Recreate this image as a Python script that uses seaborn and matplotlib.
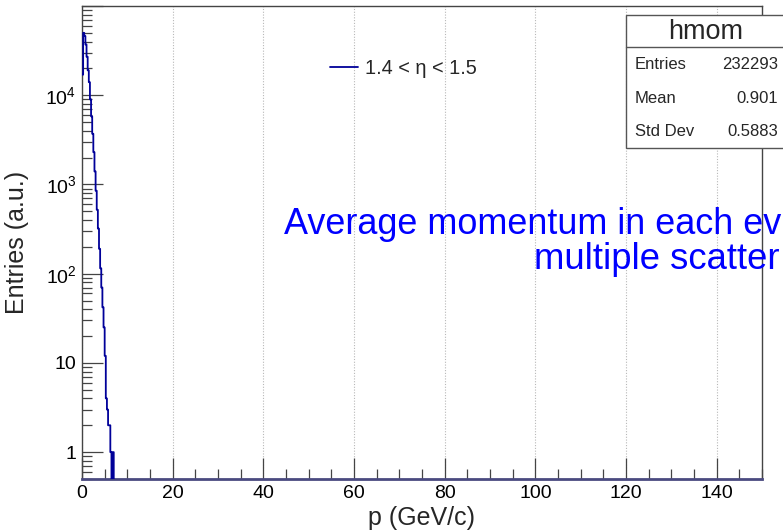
import numpy as np
import pandas as pd
import matplotlib
matplotlib.use("Agg")
import matplotlib.pyplot as plt
import matplotlib.ticker as mticker
from matplotlib.patches import Rectangle
from matplotlib.lines import Line2D
import seaborn as sns

# ---------------- data ----------------
bin_width = 0.25
x_range = (0.0, 150.0)
counts = [17000, 50000, 46000, 37000, 27000, 19000, 14000, 9000,
          5800, 3700, 2300, 1400, 850, 520, 320, 190,
          115, 70, 42, 25, 12, 4, 3, 2,
          2, 1, 0, 1]
legend_label = "1.4 < η < 1.5"
stats_title = "hmom"
stats_names = ["Entries", "Mean", "Std Dev"]
stats_values = ["232293", "0.901", "0.5883"]
x_ticks = [0, 20, 40, 60, 80, 100, 120, 140]
y_ticks = [1, 10, 100, 1000, 10000]
y_tick_labels = ["1", "10", r"$\mathregular{10^{2}}$", r"$\mathregular{10^{3}}$",
                 r"$\mathregular{10^{4}}$"]
note_line1 = "Average momentum in each ev"
note_line2 = "multiple scatter"

p_centers = bin_width * (np.arange(len(counts)) + 0.5)
df = pd.DataFrame({"p": p_centers, "w": counts})
edges = list(np.arange(x_range[0], x_range[1] + bin_width / 2, bin_width))

# ---------------- style ----------------
sns.set_theme(style="white")
plt.rcParams["font.family"] = ["Liberation Sans", "DejaVu Sans"]

W, H = 783, 531
fig = plt.figure(figsize=(W / 100, H / 100), dpi=100)
ax = fig.add_axes([82 / W, (H - 479) / H, (762 - 82) / W, (479 - 6) / H])

line_color = "#000099"
sns.histplot(data=df, x="p", weights="w", bins=edges, element="step",
             fill=False, color=line_color, linewidth=1.3, ax=ax,
             label=legend_label, zorder=3)

ax.set_yscale("log")
ax.set_xlim(*x_range)
ax.set_ylim(0.5, 1e5)

ax.xaxis.set_major_locator(mticker.FixedLocator(x_ticks))
ax.xaxis.set_minor_locator(mticker.MultipleLocator(5))
ax.yaxis.set_major_locator(mticker.FixedLocator(y_ticks + [1e5]))
ax.yaxis.set_minor_locator(mticker.LogLocator(base=10, subs=np.arange(2, 10), numticks=20))
lab_map = dict(zip(y_ticks, y_tick_labels))
ax.yaxis.set_major_formatter(mticker.FuncFormatter(
    lambda v, pos: next((l for t, l in lab_map.items() if abs(v - t) < 1e-6 * t), "")))
ax.yaxis.set_minor_formatter(mticker.NullFormatter())

ax.tick_params(axis="both", which="both", direction="in", top=False, right=False,
               left=True, bottom=True,
               colors="#444444", labelcolor="black", labelsize=14)
ax.tick_params(axis="both", which="major", length=15, width=0.9, pad=4)
ax.tick_params(axis="both", which="minor", length=7.5, width=0.9)

for s in ax.spines.values():
    s.set_color("#444444")
    s.set_linewidth(1.0)
ax.spines["bottom"].set_color("#4a4a80")
ax.spines["bottom"].set_linewidth(2.0)

ax.grid(axis="x", which="major", color="#b8b8b8", linestyle=(0, (1, 1.5)), linewidth=0.8, zorder=0)
ax.grid(axis="y", visible=False)
ax.set_axisbelow(True)

ax.set_xlabel("p (GeV/c)", fontsize=18, va="top")
ax.xaxis.set_label_coords(0.5, -0.058)
ax.set_ylabel("Entries (a.u.)", fontsize=18, va="center")
ax.yaxis.set_label_coords(-0.0956, 0.5)

leg = ax.legend(loc="center left", bbox_to_anchor=((330 - 82) / 680, (479 - 68) / 473),
                frameon=False, fontsize=14.3, handlelength=1.4, handletextpad=0.35,
                borderpad=0, borderaxespad=0)

# ---------------- stats box ----------------
def fx(px):
    return px / W

def fy(py):
    return (H - py) / H

fig.add_artist(Rectangle((fx(626), fy(148)), fx(800) - fx(626), fy(15) - fy(148),
                         transform=fig.transFigure, facecolor="white",
                         edgecolor="#555555", linewidth=1.0, zorder=5))
fig.add_artist(Line2D([fx(626), fx(800)], [fy(47), fy(47)], transform=fig.transFigure,
                      color="#555555", linewidth=1.0, zorder=6))
fig.text(fx(706), fy(32), stats_title, fontsize=19.5, ha="center", va="center", zorder=7)
for i, (nm, val) in enumerate(zip(stats_names, stats_values)):
    yy = fy(65 + 33.5 * i)
    fig.text(fx(635), yy, nm, fontsize=12, ha="left", va="center", zorder=7)
    fig.text(fx(778), yy, val, fontsize=12, ha="right", va="center", zorder=7)

# ---------------- note text ----------------
fig.text(fx(781), fy(234), note_line1, fontsize=25.9, color="#0000ff", ha="right", va="baseline")
fig.text(fx(779), fy(269), note_line2, fontsize=26.3, color="#0000ff", ha="right", va="baseline")

fig.savefig("out.png", dpi=100)
